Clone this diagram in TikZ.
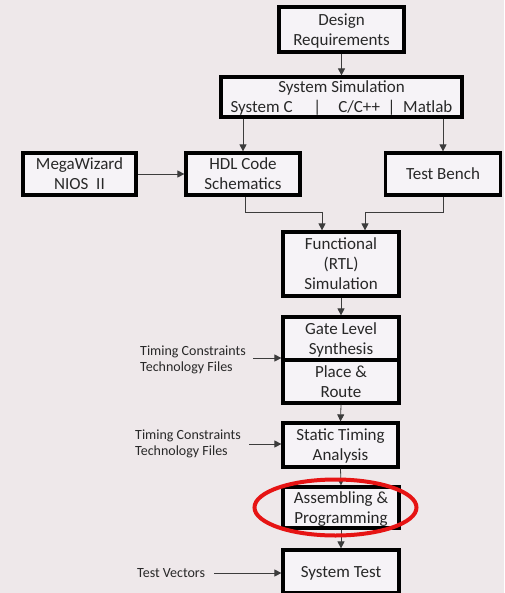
\documentclass[tikz,border=0pt]{standalone}
\usepackage{fontspec}
\setmainfont{Carlito}
\usetikzlibrary{arrows.meta}
\definecolor{bgc}{RGB}{238,232,234}
\definecolor{boxfill}{RGB}{246,243,247}
\definecolor{linec}{RGB}{60,60,60}
\definecolor{txt}{RGB}{40,40,40}
\definecolor{redc}{RGB}{230,20,20}
\tikzset{
  blk/.style={draw=black, line width=3.2pt, fill=boxfill, rectangle, inner sep=0pt, align=center, text depth=0pt, font=\fontsize{17}{20}\selectfont, text=txt},
  lbl/.style={align=left, anchor=west, inner sep=0pt, font=\fontsize{14}{16}\selectfont, text=txt},
  conn/.style={draw=linec, line width=0.8pt, -{Triangle[length=7pt,width=7pt]}},
  plain/.style={draw=linec, line width=0.8pt}
}
\begin{document}
\begin{tikzpicture}[x=1pt,y=-1pt]
\fill[bgc] (0,0) rectangle (504,593);
\useasboundingbox (0,0) rectangle (504,593);
\node[blk, minimum width=125pt, minimum height=45pt] (dr) at (341.5,29.5) {Design\\Requirements};
\node[blk, minimum width=241pt, minimum height=40pt] (ss) at (341.5,97) {System Simulation\\System C \quad|\quad C/C++ \ | \ Matlab};
\node[blk, minimum width=113pt, minimum height=42pt] (mw) at (79.5,174) {MegaWizard\\NIOS\ \ II};
\node[blk, minimum width=114pt, minimum height=42pt] (hdl) at (243,174) {HDL Code\\Schematics};
\node[blk, minimum width=115pt, minimum height=42pt] (tb) at (443,174) {Test Bench};
\node[blk, minimum width=116pt, minimum height=64pt] (fn) at (341,264) {Functional\\(RTL)\\Simulation};
\node[blk, minimum width=116pt, minimum height=43pt] (gls) at (341,338.5) {Gate Level\\Synthesis};
\node[blk, minimum width=116pt, minimum height=43pt] (pr) at (341,381.5) {Place \&\\Route};
\node[blk, minimum width=115pt, minimum height=44pt] (sta) at (340.5,445) {Static Timing\\Analysis};
\node[blk, minimum width=116pt, minimum height=41pt] (ap) at (341,507.5) {Assembling \&\\Programming};
\node[blk, minimum width=116pt, minimum height=43pt] (st) at (341,571.5) {System Test};
\node[lbl] (tc1) at (140,360) {Timing Constraints\\Technology Files};
\node[lbl] (tc2) at (135,444) {Timing Constraints\\Technology Files};
\node[lbl] (tv) at (137,573) {Test Vectors};
% connectors
\draw[conn] (dr.south) -- (ss.north);
\draw[conn] (hdl.north |- ss.south) -- (hdl.north);
\draw[conn] (tb.north |- ss.south) -- (tb.north);
\draw[conn] (mw.east) -- (hdl.west);
\coordinate (h1) at (245,212);
\coordinate (h2) at (322,212);
\coordinate (t1) at (443,212);
\coordinate (t2) at (365,212);
\draw[plain] (h1 |- hdl.south) -- (h1) -- (h2);
\draw[conn] (h2) -- (h2 |- fn.north);
\draw[plain] (t1 |- tb.south) -- (t1) -- (t2);
\draw[conn] (t2) -- (t2 |- fn.north);
\draw[conn] (fn.south) -- (gls.north);
\draw[conn] (pr.south) -- (sta.north);
\draw[conn] (sta.south) -- (ap.north);
\draw[conn] (ap.south) -- (st.north);
\coordinate (a1) at (253,358);
\draw[conn] (a1) -- (a1 -| gls.west);
\coordinate (a2) at (249,444);
\draw[conn] (a2) -- (a2 -| sta.west);
\coordinate (a3) at (214,573);
\draw[conn] (a3) -- (a3 -| st.west);
% highlight ellipse
\draw[redc, line width=4pt] (335.5,507.5) ellipse [x radius=81pt, y radius=28pt];
\end{tikzpicture}
\end{document}
